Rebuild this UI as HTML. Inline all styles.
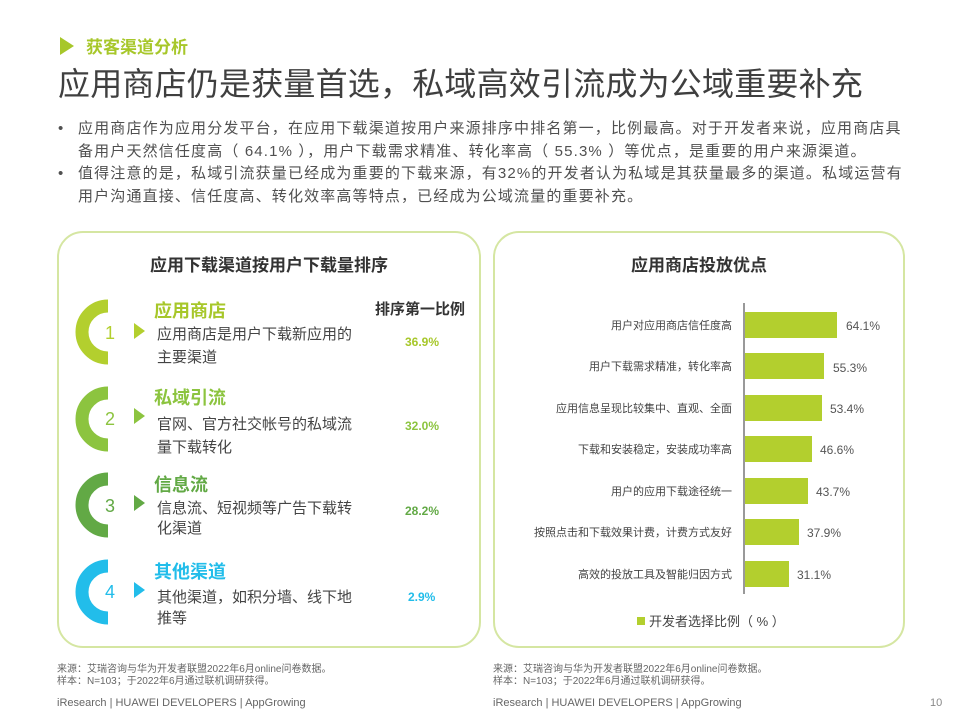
<!DOCTYPE html>
<html><head><meta charset="utf-8"><style>
*{margin:0;padding:0;box-sizing:border-box}
body{width:960px;height:720px;background:#fff;position:relative;overflow:hidden;font-family:"Liberation Sans","Noto Sans CJK SC",sans-serif;color:#404040}
.a{position:absolute;white-space:nowrap}
.box{position:absolute;border:2px solid #d5e6a2;border-radius:26px}
.tri{width:0;height:0;border-top:8px solid transparent;border-bottom:8px solid transparent;border-left:12px solid}
</style></head><body>
<div class="a tri" style="left:60px;top:37px;border-top-width:9px;border-bottom-width:9px;border-left:14px solid #a7c72a"></div>
<div class="a" style="left:86px;top:33px;font-size:17px;font-weight:bold;color:#a7c72a">获客渠道分析</div>
<div class="a" style="left:58px;top:59px;font-size:32px;color:#3f3f3f;letter-spacing:0.2px">应用商店仍是获量首选，私域高效引流成为公域重要补充</div>
<div class="a" style="left:58px;top:118px;font-size:15px;line-height:22.5px;color:#505050">•</div>
<div class="a" style="left:58px;top:163px;font-size:15px;line-height:22.5px;color:#505050">•</div>
<div class="a" style="left:78px;top:118px;font-size:15px;line-height:22.5px;color:#505050;letter-spacing:1.15px">
应用商店作为应用分发平台，在应用下载渠道按用户来源排序中排名第一，比例最高。对于开发者来说，应用商店具<br>
备用户天然信任度高（ 64.1% ），用户下载需求精准、转化率高（ 55.3% ）等优点，是重要的用户来源渠道。<br>
值得注意的是，私域引流获量已经成为重要的下载来源，有32%的开发者认为私域是其获量最多的渠道。私域运营有<br>
用户沟通直接、信任度高、转化效率高等特点，已经成为公域流量的重要补充。</div>

<div class="box" style="left:57px;top:231px;width:424px;height:417px"></div>
<div class="box" style="left:493px;top:231px;width:412px;height:417px"></div>
<div class="a" style="left:57px;width:424px;text-align:center;top:251px;font-size:17px;font-weight:bold;color:#333">应用下载渠道按用户下载量排序</div>
<div class="a" style="left:493px;width:412px;text-align:center;top:251px;font-size:17px;font-weight:bold;color:#333">应用商店投放优点</div>
<div class="a" style="left:375px;top:298px;font-size:15px;font-weight:bold;color:#333">排序第一比例</div>

<svg class="a" style="left:0;top:0" width="960" height="720">
<g fill="none" stroke-width="13">
<path d="M108 306 A26 26 0 0 0 108 358" stroke="#b3cf2e"/>
<path d="M108 393 A26 26 0 0 0 108 445" stroke="#8cc43f"/>
<path d="M108 479 A26 26 0 0 0 108 531" stroke="#62a945"/>
<path d="M108 566 A26 26 0 0 0 108 618" stroke="#22bdea"/>
</g>
<g font-size="18" font-family="Liberation Sans,sans-serif" text-anchor="middle">
<text x="110" y="339" fill="#b3cf2e">1</text><text x="110" y="425" fill="#8cc43f">2</text>
<text x="110" y="512" fill="#62a945">3</text><text x="110" y="598" fill="#22bdea">4</text>
</g>
<polygon points="134,323 134,339 145,331" fill="#b3cf2e"/>
<polygon points="134,408 134,424 145,416" fill="#8cc43f"/>
<polygon points="134,495 134,511 145,503" fill="#62a945"/>
<polygon points="134,582 134,598 145,590" fill="#22bdea"/>
<line x1="744" y1="303" x2="744" y2="594" stroke="#333" stroke-width="1"/>
<g fill="#b3cf2e">
<rect x="745" y="312" width="92" height="26"/>
<rect x="745" y="353" width="79" height="26"/>
<rect x="745" y="395" width="77" height="26"/>
<rect x="745" y="436" width="67" height="26"/>
<rect x="745" y="478" width="63" height="26"/>
<rect x="745" y="519" width="54" height="26"/>
<rect x="745" y="561" width="44" height="26"/>
<rect x="637" y="617" width="8" height="8"/>
</g>
<g font-size="12" fill="#555" font-family="Liberation Sans,sans-serif">
<text x="846" y="330">64.1%</text><text x="833" y="372">55.3%</text><text x="830" y="413">53.4%</text>
<text x="820" y="454">46.6%</text><text x="816" y="496">43.7%</text><text x="807" y="537">37.9%</text><text x="797" y="579">31.1%</text>
</g>
<g font-size="11" fill="#444" text-anchor="end" font-family="Liberation Sans,Noto Sans CJK SC,sans-serif">
<text x="732" y="329">用户对应用商店信任度高</text>
<text x="732" y="370">用户下载需求精准，转化率高</text>
<text x="732" y="412">应用信息呈现比较集中、直观、全面</text>
<text x="732" y="453">下载和安装稳定，安装成功率高</text>
<text x="732" y="495">用户的应用下载途径统一</text>
<text x="732" y="536">按照点击和下载效果计费，计费方式友好</text>
<text x="732" y="578">高效的投放工具及智能归因方式</text>
</g>
<text x="649" y="626" font-size="13" fill="#444" font-family="Liberation Sans,Noto Sans CJK SC,sans-serif">开发者选择比例（ % ）</text>
</svg>

<div class="a" style="left:154px;top:297px;font-size:18px;font-weight:bold;color:#a7c72a">应用商店</div>
<div class="a" style="left:157px;top:323px;font-size:15px;line-height:23px;color:#444">应用商店是用户下载新应用的<br>主要渠道</div>
<div class="a" style="left:405px;top:335px;font-size:12px;font-weight:bold;color:#a7c72a">36.9%</div>

<div class="a" style="left:154px;top:384px;font-size:18px;font-weight:bold;color:#8cc43f">私域引流</div>
<div class="a" style="left:157px;top:413px;font-size:15px;line-height:23px;color:#444">官网、官方社交帐号的私域流<br>量下载转化</div>
<div class="a" style="left:405px;top:419px;font-size:12px;font-weight:bold;color:#8cc43f">32.0%</div>

<div class="a" style="left:154px;top:471px;font-size:18px;font-weight:bold;color:#62a945">信息流</div>
<div class="a" style="left:157px;top:499px;font-size:15px;line-height:20px;color:#444">信息流、短视频等广告下载转<br>化渠道</div>
<div class="a" style="left:405px;top:504px;font-size:12px;font-weight:bold;color:#62a945">28.2%</div>

<div class="a" style="left:154px;top:558px;font-size:18px;font-weight:bold;color:#22bdea">其他渠道</div>
<div class="a" style="left:157px;top:587px;font-size:15px;line-height:21px;color:#444">其他渠道，如积分墙、线下地<br>推等</div>
<div class="a" style="left:408px;top:590px;font-size:12px;font-weight:bold;color:#22bdea">2.9%</div>

<div class="a" style="left:57px;top:664px;font-size:10px;line-height:12px;color:#666">来源：艾瑞咨询与华为开发者联盟2022年6月online问卷数据。<br>样本：N=103；于2022年6月通过联机调研获得。</div>
<div class="a" style="left:493px;top:664px;font-size:10px;line-height:12px;color:#666">来源：艾瑞咨询与华为开发者联盟2022年6月online问卷数据。<br>样本：N=103；于2022年6月通过联机调研获得。</div>
<div class="a" style="left:57px;top:697px;font-size:11px;color:#666">iResearch | HUAWEI DEVELOPERS | AppGrowing</div>
<div class="a" style="left:493px;top:697px;font-size:11px;color:#666">iResearch | HUAWEI DEVELOPERS | AppGrowing</div>
<div class="a" style="left:930px;top:697px;font-size:11px;color:#888">10</div>
</body></html>
